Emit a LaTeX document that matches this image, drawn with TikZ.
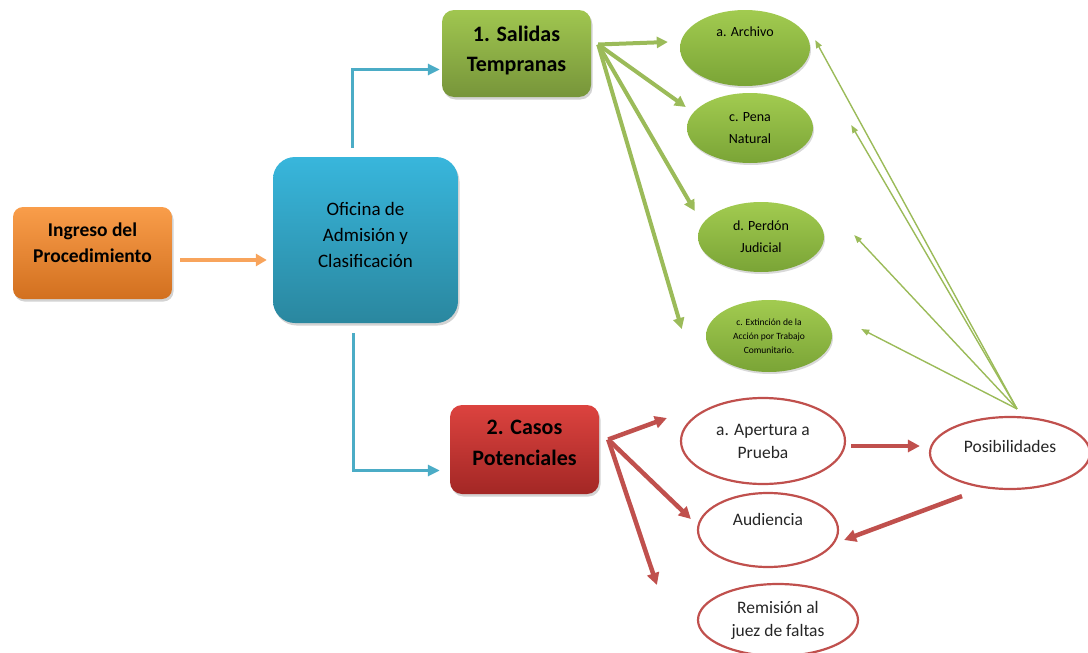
\documentclass[tikz,border=0pt]{standalone}
\usepackage{fontspec}
\setmainfont{Carlito}
\usepackage{tikz}
\usetikzlibrary{positioning,arrows.meta,calc,shapes.geometric,shadows}

\definecolor{ingtop}{HTML}{F99D4A}
\definecolor{ingbot}{HTML}{D2701F}
\definecolor{ofitop}{HTML}{38B6DC}
\definecolor{ofibot}{HTML}{2A879F}
\definecolor{saltop}{HTML}{A0C650}
\definecolor{salbot}{HTML}{77953A}
\definecolor{castop}{HTML}{DC433F}
\definecolor{casbot}{HTML}{A32725}
\definecolor{elltop}{HTML}{A2CB50}
\definecolor{ellbot}{HTML}{7AA436}
\definecolor{gline}{HTML}{9BBB59}
\definecolor{rline}{HTML}{C0504D}
\definecolor{bline}{HTML}{4BACC6}
\definecolor{oline}{HTML}{F8A45C}

\begin{document}
\begin{tikzpicture}[x=1pt, y=-1pt, >=Triangle,
  every node/.style={align=center, inner sep=0pt, text=black},
  box/.style={rounded corners=#1, drop shadow={opacity=0.35, shadow xshift=1.5pt, shadow yshift=-2.5pt}},
  gell/.style={ellipse, top color=elltop, bottom color=ellbot,
               drop shadow={opacity=0.3, shadow xshift=1pt, shadow yshift=-2pt},
               font=\fontsize{14}{22}\selectfont},
  rell/.style={ellipse, draw=rline, line width=2.2pt, fill=white, text=black!85,
               font=\fontsize{17.5}{23}\selectfont},
  garrow/.style={-{Triangle[length=11pt,width=11pt]}, line width=4pt, draw=gline},
  gthin/.style={-{Triangle[length=8pt,width=6pt]}, line width=1.4pt, draw=gline},
  rarrow/.style={-{Triangle[length=12pt,width=12pt]}, line width=4.5pt, draw=rline},
  barrow/.style={-{Triangle[length=12pt,width=11pt]}, line width=3pt, draw=bline},
  oarrow/.style={-{Triangle[length=11pt,width=12pt]}, line width=4.5pt, draw=oline}]

  \useasboundingbox (0,0) rectangle (1088,653);

  % main boxes
  \node[box=10pt, top color=ingtop, bottom color=ingbot,
        minimum width=159pt, minimum height=92pt,
        font=\bfseries\fontsize{19.5}{26}\selectfont] (ing)
      at (92.5,253) {Ingreso del\\Procedimiento\\[-6pt]};
  \node[box=22pt, top color=ofitop, bottom color=ofibot,
        minimum width=185pt, minimum height=166pt,
        font=\fontsize{19}{26}\selectfont] (ofi)
      at (365.5,240) {Oficina de\\Admisión y\\Clasificación\\[-16pt]};
  \node[box=12pt, top color=saltop, bottom color=salbot,
        minimum width=149pt, minimum height=87pt,
        font=\bfseries\fontsize{22}{30}\selectfont] (sal)
      at (516.5,53.5) {1. Salidas\\Tempranas\\[-20pt]};
  \node[box=12pt, top color=castop, bottom color=casbot,
        minimum width=149pt, minimum height=89pt,
        font=\bfseries\fontsize{22}{31}\selectfont] (cas)
      at (524.5,449.5) {2. Casos\\Potenciales\\[-17pt]};

  % salidas tempranas
  \node[gell, minimum width=130pt, minimum height=76pt] (arch) at (745,48) {a. Archivo\\[10pt]};
  \node[gell, minimum width=126pt, minimum height=70pt] (pena) at (750,128) {c. Pena\\Natural};
  \node[gell, minimum width=126pt, minimum height=70pt] (perd) at (761,237) {d. Perdón\\Judicial};
  \node[gell, minimum width=126pt, minimum height=72pt, font=\fontsize{9.5}{14}\selectfont] (ext)
      at (769,336) {c. Extinción de la\\Acción por Trabajo\\Comunitario.};

  % casos potenciales
  \node[rell, minimum width=164pt, minimum height=86pt] (aper) at (763,441) {a. Apertura a\\Prueba};
  \node[rell, minimum width=160pt, minimum height=72pt] (pos) at (1010,453) {Posibilidades\\[-10pt]};
  \node[rell, minimum width=140pt, minimum height=74pt] (aud) at (768,530) {Audiencia\\[-2pt]};
  \node[rell, minimum width=160pt, minimum height=72pt] (rem) at (778,620) {Remisión al\\juez de faltas};

  \coordinate (salout) at ($(sal.east)+(7,-9)$);
  \coordinate (posout) at ($(pos.north)+(7,-7)$);
  \coordinate (casout) at ($(cas.east)+(9,-10)$);

  \draw[oarrow] ($(ing.east)+(8,7)$) -- ($(ofi.west)+(-6,20)$);
  \draw[barrow] ($(ofi.north)+(-13,-9)$) |- ($(sal.west)+(-2,16)$);
  \draw[barrow] ($(ofi.south)+(-12,10)$) |- ($(cas.west)+(-10,21)$);

  \draw[garrow] (salout) -- ($(arch.west)+(-12,-6)$);
  \draw[garrow] (salout) -- ($(pena.west)+(-1,-21)$);
  \draw[garrow] (salout) -- ($(perd.west)+(-3,-26)$);
  \draw[garrow] (salout) -- ($(ext.west)+(-24,-7)$);

  \draw[gthin] (posout) -- ($(arch.east)+(5,-8)$);
  \draw[gthin] (posout) -- ($(pena.east)+(38,-3)$);
  \draw[gthin] (posout) -- ($(perd.east)+(30,-2)$);
  \draw[gthin] (posout) -- ($(ext.east)+(29,-7)$);

  \draw[rarrow] (casout) -- ($(aper.west)+(-13,-23)$);
  \draw[rarrow] (casout) -- ($(aud.west)+(-6,-11)$);
  \draw[rarrow] (casout) -- ($(rem.west)+(-40,-35)$);
  \draw[rarrow] ($(aper.east)+(5,5)$) -- ($(pos.west)+(-9,-7)$);
  \draw[rarrow] ($(pos.south)+(-48,6)$) -- ($(aud.east)+(5,10)$);
\end{tikzpicture}
\end{document}
